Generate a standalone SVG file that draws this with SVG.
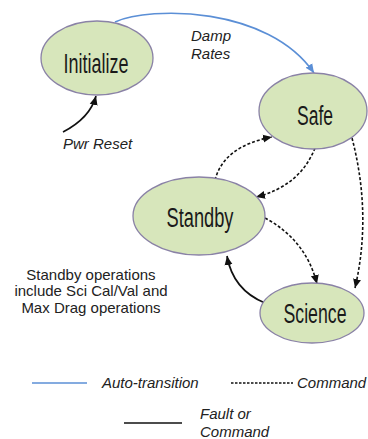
<svg xmlns="http://www.w3.org/2000/svg" width="368" height="439" viewBox="0 0 368 439">
<defs>
<style>
.node{fill:#d7e6bb;stroke:#8a82a6;stroke-width:1.3}
.lbl{font-family:"Liberation Sans",Arial,sans-serif;font-size:27px;fill:#1a1a1a;text-anchor:middle}
.txt{font-family:"Liberation Sans",Arial,sans-serif;font-size:15px;fill:#222}
.it{font-style:italic}
.auto{fill:none;stroke:#5b8fd6;stroke-width:1.6}
.cmd{fill:none;stroke:#111;stroke-width:1.6;stroke-dasharray:3,2}
.flt{fill:none;stroke:#111;stroke-width:1.7}
</style>
<marker id="ab" markerUnits="userSpaceOnUse" markerWidth="10" markerHeight="10" refX="9" refY="5" orient="auto"><path d="M0,1 L9,5 L0,9 Z" fill="#5b8fd6"/></marker>
<marker id="ak" markerUnits="userSpaceOnUse" markerWidth="10" markerHeight="10" refX="9" refY="5" orient="auto"><path d="M0,1 L9,5 L0,9 Z" fill="#111"/></marker>
</defs>
<g id="connectors">
<path class="auto" d="M115,22 C150,6 268,6 314,73" marker-end="url(#ab)"/>
<path class="flt" d="M63,132 Q90,118 96,96" marker-end="url(#ak)"/>
<path class="cmd" d="M215,180 Q224,146 272,137" marker-end="url(#ak)"/>
<path class="cmd" d="M315,148 Q300,186 256,197" marker-end="url(#ak)"/>
<path class="cmd" d="M265,218 Q306,240 317,284" marker-end="url(#ak)"/>
<path class="cmd" d="M352,138 Q372,215 355,288" marker-end="url(#ak)"/>
<path class="flt" d="M265,303 Q233,290 227,256" marker-end="url(#ak)"/>
</g>
<g id="initialize"><ellipse class="node" cx="97" cy="58" rx="56" ry="37"/><text class="lbl" x="96" y="73" textLength="65" lengthAdjust="spacingAndGlyphs">Initialize</text></g>
<g id="safe"><ellipse class="node" cx="313" cy="111" rx="54" ry="38"/><text class="lbl" x="315" y="125" textLength="36" lengthAdjust="spacingAndGlyphs">Safe</text></g>
<g id="standby"><ellipse class="node" cx="199" cy="216" rx="66" ry="39"/><text class="lbl" x="200" y="227" textLength="67" lengthAdjust="spacingAndGlyphs">Standby</text></g>
<g id="science"><ellipse class="node" cx="312" cy="313" rx="52" ry="30"/><text class="lbl" x="315" y="323" font-size="25" textLength="63" lengthAdjust="spacingAndGlyphs">Science</text></g>
<g id="labels">
<text class="txt it" x="191" y="41">Damp</text>
<text class="txt it" x="191" y="59">Rates</text>
<text class="txt it" x="63" y="149">Pwr Reset</text>
<text class="txt" x="91" y="280" text-anchor="middle">Standby operations</text>
<text class="txt" x="91" y="296" text-anchor="middle">include Sci Cal/Val and</text>
<text class="txt" x="91" y="313" text-anchor="middle">Max Drag operations</text>
</g>
<g id="legend">
<line class="auto" x1="32" y1="383" x2="87" y2="383"/>
<text class="txt it" x="102" y="388">Auto-transition</text>
<line x1="231" y1="383" x2="293" y2="383" stroke="#111" stroke-width="1.4" stroke-dasharray="2.5,1.5"/>
<text class="txt it" x="297" y="388">Command</text>
<line class="flt" x1="124" y1="423" x2="182" y2="423"/>
<text class="txt it" x="200" y="419">Fault or</text>
<text class="txt it" x="200" y="437">Command</text>
</g>
</svg>
